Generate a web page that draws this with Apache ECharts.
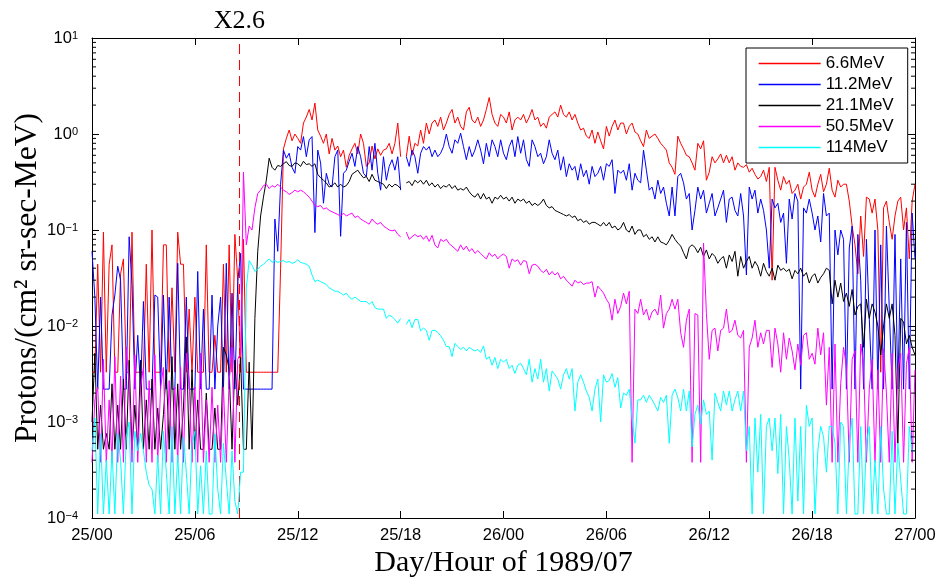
<!DOCTYPE html>
<html><head><meta charset="utf-8">
<script src="https://cdn.jsdelivr.net/npm/echarts@6/dist/echarts.min.js"></script>
<style>html,body{margin:0;padding:0;background:#fff}#c{width:940px;height:586px}</style>
</head><body><div id="c"></div>
<script>
// ---- data (10-minute samples starting 1989/07/25 00:00) ----
const sampleMinutes = 10;
const xTickLabels = ['25/00','25/06','25/12','25/18','26/00','26/06','26/12','26/18','27/00'];
const seriesNames = ['6.6MeV','11.2MeV','21.1MeV','50.5MeV','114MeV'];
const seriesColors = ['#ff0000','#0000ff','#000000','#ff00ff','#00ffff'];
const flareHour = 8.59;
const flareLabel = 'X2.6';

const p066 = [
0.0033,0.0033,0.044,0.0033,0.095,0.0033,
0.044,0.07,0.0033,0.0033,0.035,0.05,
0.0033,0.0033,0.095,0.0033,0.0033,0.0033,
0.0033,0.044,0.0033,0.1,0.0033,0.0033,
0.0033,0.07,0.07,0.0033,0.025,0.0033,
0.095,0.044,0.044,0.0033,0.015,0.0033,
0.02,0.0033,0.0033,0.0033,0.07,0.0033,
0.0033,0.008,0.0033,0.0033,0.044,0.0033,
0.07,0.0033,0.09,0.03,0.0033,0.08,
0.0033,0.0033,0.0033,0.0033,0.0033,0.0033,
0.0033,0.0033,0.0033,0.0033,0.0033,0.0033,
0.04,0.7,0.9,1.1,0.85,1.0,
0.9,0.8,1.3,1.5,1.8,1.4,
2.1,1.1,0.95,0.8,1.0,0.62,
0.9,0.68,0.75,0.58,0.68,0.45,
0.6,0.7,0.8,0.62,1.0,0.8,
0.46,0.5,0.75,0.55,0.7,0.6,
0.68,0.7,0.8,0.62,0.8,1.3,
0.58,null,0.58,0.95,0.6,0.8,
0.75,1.1,0.8,1.3,1.0,1.3,
1.4,1.2,1.5,1.1,1.3,1.6,
1.8,1.3,1.5,1.2,1.1,1.7,
1.9,1.4,1.3,1.5,1.2,1.4,
1.8,2.4,1.6,1.3,1.2,1.6,
1.5,1.3,1.7,1.1,1.4,1.5,
1.4,1.6,1.3,1.5,1.8,1.4,
1.5,1.2,1.3,1.15,1.5,1.6,
1.7,1.5,2.0,1.6,1.5,1.7,
1.4,1.6,1.3,1.1,1.15,0.95,
0.9,1.1,0.8,1.05,0.85,0.7,
1.2,0.95,1.2,1.4,1.1,1.3,
1.3,1.0,1.2,1.3,1.05,1.0,
0.85,0.74,1.1,0.9,0.95,1.0,
0.9,0.8,0.74,0.68,0.5,0.45,
0.38,0.95,0.8,0.7,0.6,0.58,
0.5,0.42,0.8,0.7,0.85,0.33,
0.4,0.58,0.5,0.55,0.62,0.5,
0.6,0.5,0.58,0.42,0.5,0.46,
0.45,0.48,0.4,0.44,0.38,0.34,
0.36,0.42,0.32,0.45,0.03,0.45,
0.33,0.26,0.36,0.3,0.33,0.24,
0.26,0.3,0.21,0.28,0.3,0.4,
0.26,0.22,0.3,0.38,0.25,0.3,
0.44,0.26,0.22,0.33,0.28,0.3,
0.3,0.2,0.11,0.07,0.035,0.14,
0.053,0.22,0.21,0.15,0.21,0.1,
0.0033,0.17,0.2,0.12,0.08,0.14,
0.2,0.22,0.1,0.17,0.05,0.2,
0.3];

const p112 = [
0.06,0.02,0.0022,0.02,0.0022,0.0022,
0.0022,0.013,0.021,0.042,0.03,0.0022,
0.0022,0.085,0.027,0.0022,0.008,0.0022,
0.018,0.0022,0.0022,0.0022,0.021,0.02,
0.0022,0.021,0.0022,0.02,0.0022,0.0022,
0.045,0.0022,0.0022,0.02,0.0022,0.0022,
0.0022,0.037,0.0022,0.015,0.0022,0.0022,
0.021,0.0022,0.01,0.02,0.0022,0.045,
0.0022,0.022,0.0022,0.029,0.057,0.0022,
0.0022,0.0022,0.0022,0.0022,0.0022,0.0022,
0.0022,0.0022,0.0022,0.0022,0.13,0.06,
0.3,0.68,0.56,0.63,0.45,0.39,
0.74,0.68,0.94,0.58,0.87,0.94,
0.094,0.68,0.5,0.19,0.39,0.3,
0.28,0.58,0.68,0.086,0.39,0.42,
0.52,0.63,0.46,0.74,0.58,0.39,
0.36,0.74,0.42,0.8,0.39,0.26,
0.58,0.33,0.46,0.54,0.42,0.58,
0.26,null,0.58,0.46,0.68,0.58,
0.39,0.63,0.74,0.68,0.74,0.58,
0.68,0.58,0.63,0.74,1.0,0.74,
0.63,0.87,0.8,1.02,0.74,0.54,
0.74,0.58,0.68,0.87,0.68,0.49,
0.8,0.58,0.87,0.74,0.58,0.87,
0.63,0.54,0.74,0.87,0.58,0.94,
0.63,0.87,0.54,0.46,0.87,0.74,
0.58,0.63,0.49,0.58,0.87,0.63,
0.54,0.68,0.42,0.58,0.36,0.49,
0.42,0.46,0.33,0.49,0.36,0.42,
0.3,0.46,0.36,0.39,0.46,0.33,
0.49,0.46,0.54,0.24,0.42,0.39,
0.42,0.33,0.49,0.26,0.39,0.33,
0.31,0.68,0.42,0.26,0.28,0.21,
0.33,0.24,0.28,0.19,0.14,0.28,
0.14,0.36,0.39,0.31,0.21,0.24,
0.1,0.16,0.28,0.21,0.26,0.15,
0.19,0.24,0.14,0.17,0.21,0.26,
0.12,0.21,0.22,0.16,0.14,0.24,
0.14,0.034,0.28,0.21,0.26,0.15,
0.21,0.16,0.1,0.04,0.21,0.17,
0.19,0.12,0.15,0.045,0.21,0.13,
0.24,0.2,0.0022,0.17,0.15,0.21,
0.15,0.1,0.14,0.075,0.24,0.14,
0.15,0.0022,0.1,0.055,0.1,0.08,
0.0022,0.065,0.11,0.0022,0.09,0.03,
0.0022,0.08,0.012,0.0022,0.1,0.0022,
0.07,0.0022,0.11,0.015,0.0022,0.09,
0.0022,0.05,0.0022,0.12,0.0022,0.15,
0.05];

const p211 = [
0.001,0.0052,0.00052,0.0015,0.00052,0.00076,
0.00052,0.0025,0.00052,0.0015,0.00052,0.0028,
0.00052,0.0044,0.00052,0.0015,0.00052,0.0044,
0.00052,0.0017,0.00052,0.0028,0.00052,0.0014,
0.00052,0.0012,0.0035,0.00052,0.0048,0.00052,
0.0025,0.00052,0.0014,0.0077,0.00052,0.0035,
0.00052,0.0017,0.00052,0.00052,0.002,0.00052,
0.00052,0.0014,0.00052,0.00052,0.006,0.005,
0.0035,0.00052,0.0044,0.0015,0.0047,0.00052,
0.00052,0.0042,0.00052,0.012,0.06,0.14,
0.22,0.33,0.56,0.45,0.42,0.47,
0.46,0.49,0.515,0.47,0.46,0.5,
0.49,0.46,0.52,0.48,0.49,0.46,
0.49,0.38,0.35,0.33,0.31,0.28,
0.29,0.31,0.28,0.3,0.28,0.29,
0.32,0.38,0.4,0.42,0.38,0.35,
0.36,0.32,0.38,0.33,0.32,0.31,
0.3,0.27,0.3,0.28,0.3,0.29,
0.27,null,0.31,0.32,0.29,0.33,
0.31,0.33,0.3,0.33,0.29,0.31,
0.28,0.3,0.27,0.29,0.28,0.3,
0.27,0.29,0.26,0.27,0.26,0.28,
0.25,0.23,0.22,0.24,0.21,0.24,
0.21,0.22,0.19,0.22,0.21,0.23,
0.21,0.22,0.2,0.22,0.19,0.21,
0.2,0.21,0.19,0.2,0.18,0.19,
0.18,0.19,0.21,0.18,0.17,0.175,
0.16,0.155,0.15,0.145,0.14,0.145,
0.135,0.14,0.125,0.13,0.12,0.125,
0.115,0.12,0.12,0.115,0.11,0.12,
0.11,0.12,0.105,0.11,0.1,0.105,
0.12,0.1,0.095,0.11,0.09,0.1,
0.1,0.085,0.09,0.08,0.085,0.075,
0.085,0.075,0.073,0.07,0.078,0.09,
0.08,0.073,0.068,0.058,0.05,0.066,
0.07,0.066,0.058,0.066,0.053,0.062,
0.05,0.057,0.053,0.045,0.05,0.053,
0.04,0.055,0.047,0.06,0.033,0.053,
0.04,0.047,0.053,0.04,0.047,0.042,
0.033,0.045,0.037,0.033,0.04,0.03,
0.043,0.038,0.04,0.037,0.039,0.031,
0.038,0.035,0.04,0.033,0.036,0.028,
0.033,0.035,0.028,0.032,0.035,0.04,
0.038,0.017,0.03,0.02,0.028,0.018,
0.022,0.016,0.024,0.013,0.016,0.017,
0.006,0.019,0.012,0.017,0.014,0.01,
0.005,0.01,0.017,0.012,0.017,0.008,
0.0006,0.012,0.011,0.0065,0.008,0.006,
0.005];

const p505 = [
0.00038,0.0017,0.0023,0.00038,0.0045,0.00038,
0.0017,0.00038,0.0048,0.00038,0.003,0.00038,
0.006,0.0025,0.00038,0.005,0.00038,0.0023,
0.0037,0.00038,0.0027,0.00038,0.005,0.00038,
0.0023,0.0037,0.00038,0.0027,0.00038,0.0023,
0.00038,0.0037,0.00038,0.0052,0.0027,0.00038,
0.0023,0.00038,0.0052,0.00038,0.0017,0.00038,
0.0023,0.00038,0.0015,0.00038,0.0023,0.00038,
0.0027,0.006,0.00038,0.0045,0.0052,0.4,
0.07,0.11,0.1,0.17,0.24,0.26,
0.29,0.3,0.27,0.29,0.28,0.3,
0.28,0.26,0.25,0.235,0.245,0.26,
0.25,0.26,0.25,0.235,0.22,0.2,
0.18,0.175,0.18,0.165,0.17,0.16,
0.155,0.15,0.145,0.14,0.15,0.14,
0.145,0.15,0.135,0.14,0.13,0.125,
0.12,0.115,0.13,0.12,0.115,0.12,
0.11,0.105,0.1,0.098,0.1,0.09,
0.085,null,0.095,0.08,0.085,0.09,
0.085,0.088,0.08,0.087,0.076,0.088,
0.07,0.065,0.08,0.076,0.08,0.072,
0.068,0.064,0.06,0.07,0.062,0.068,
0.06,0.064,0.057,0.061,0.057,0.053,
0.05,0.058,0.053,0.056,0.05,0.054,
0.056,0.053,0.04,0.05,0.047,0.049,
0.043,0.048,0.047,0.035,0.043,0.044,
0.042,0.038,0.036,0.039,0.034,0.037,
0.034,0.036,0.031,0.033,0.03,0.028,
0.026,0.03,0.028,0.029,0.027,0.028,
0.028,0.029,0.02,0.026,0.024,0.022,
0.019,0.017,0.0115,0.019,0.0135,0.016,
0.022,0.017,0.023,0.00038,0.015,0.0135,
0.019,0.013,0.015,0.0115,0.014,0.015,
0.013,0.021,0.0095,0.0135,0.015,0.019,
0.015,0.019,0.0085,0.006,0.0115,0.015,
0.00038,0.0135,0.013,0.00038,0.073,0.0135,
0.0045,0.009,0.0095,0.0055,0.009,0.0095,
0.015,0.0085,0.009,0.0115,0.008,0.0075,
0.009,0.00038,0.006,0.0075,0.0115,0.006,
0.0085,0.0065,0.009,0.009,0.0037,0.0095,
0.0065,0.0033,0.0085,0.0045,0.0075,0.0055,
0.0035,0.0065,0.0039,0.008,0.0085,0.0045,
0.0052,0.004,0.0095,0.005,0.0085,0.0015,
0.006,0.00038,0.0065,0.00038,0.0025,0.006,
0.0038,0.00038,0.0045,0.0055,0.00038,0.0065,
0.004,0.00038,0.0022,0.0045,0.00038,0.0035,
0.00038,0.0058,0.002,0.00038,0.0052,0.00038,
0.0035,0.0052,0.00038,0.004,0.006,0.00038,
0.0035];

const p114 = [
0.0005,0.0011,0.00011,0.00076,0.00011,0.0004,
0.00011,0.0005,0.00011,0.00076,0.0004,0.00011,
0.0007,0.001,0.00011,0.0008,0.0005,0.00076,
0.0005,0.0003,0.00022,0.0002,0.00011,0.00045,
0.00011,0.0008,0.0003,0.00011,0.0009,0.00011,
0.00045,0.00011,0.0007,0.0003,0.00011,0.0006,
0.0008,0.00011,0.00035,0.00011,0.0005,0.00011,
0.00011,0.00075,0.0002,0.00011,0.0006,0.00025,
0.00011,0.0005,0.00015,0.00011,0.0003,0.0003,
0.025,0.048,0.043,0.037,0.039,0.042,
0.044,0.047,0.05,0.046,0.048,0.046,
0.047,0.048,0.046,0.047,0.045,0.046,
0.049,0.046,0.045,0.044,0.042,0.034,
0.029,0.03,0.029,0.028,0.027,0.025,
0.024,0.023,0.023,0.022,0.021,0.022,
0.02,0.019,0.02,0.019,0.018,0.018,
0.018,0.0168,0.018,0.0155,0.015,0.015,
0.015,0.012,0.013,0.0125,0.0117,0.0107,
0.012,null,0.0104,0.0117,0.0096,0.0117,
0.0117,0.0089,0.0095,0.009,0.0071,0.009,
0.009,0.0086,0.0079,0.0071,0.0061,0.0061,
0.0048,0.0066,0.0061,0.0057,0.006,0.0055,
0.006,0.0057,0.0055,0.0057,0.0053,0.0062,
0.0045,0.0048,0.0039,0.0047,0.0036,0.0045,
0.0042,0.0045,0.0036,0.0039,0.0032,0.0039,
0.0041,0.0036,0.0031,0.0045,0.0026,0.0036,
0.0028,0.0045,0.0026,0.0036,0.0021,0.0034,
0.0031,0.0028,0.0022,0.0031,0.0036,0.0028,
0.0036,0.0013,0.0026,0.0031,0.0026,0.0021,
0.0018,0.0013,0.0022,0.0028,0.001,0.0031,
0.0026,0.0027,0.0032,0.0023,0.0029,0.0014,
0.002,0.0019,0.0022,0.0011,0.0006,0.0017,
0.0017,0.0019,0.0016,0.0019,0.0017,0.0015,
0.0013,0.0018,0.0016,0.0019,0.0006,0.0019,
0.0022,0.0018,0.0013,0.0022,0.0013,0.0021,
0.00055,0.0012,0.0015,0.00095,0.0017,0.0012,
0.0013,0.0004,0.002,0.0016,0.0013,0.0021,
0.0015,0.0021,0.0013,0.0017,0.0021,0.0013,
0.0021,0.0005,0.0009,0.00011,0.0011,0.0003,
0.0012,0.00011,0.0009,0.0011,0.0005,0.0011,
0.00029,0.0012,0.00011,0.0009,0.0004,0.00011,
0.0011,0.00015,0.0009,0.00011,0.0015,0.0009,
0.0011,0.00011,0.0005,0.0009,0.0007,0.0003,
0.0009,0.0009,0.0006,0.00011,0.001,0.0009,
0.00011,0.0006,0.0011,0.00011,0.00011,0.0009,
0.00011,0.0006,0.0009,0.00011,0.0004,0.00011,
0.0009,0.0002,0.00011,0.00011,0.0008,0.00011,
0.0006,0.00025,0.00011,0.00011,0.0009,0.0005,
0.0005];

const seriesValues = [p066, p112, p211, p505, p114];

// ---- chart ----
const toPairs = vals => vals.map((v, i) => [i * sampleMinutes / 60, v]);
const minorTickVals = [];
for (let e = -4; e <= 0; e++) for (let k = 2; k <= 9; k++) minorTickVals.push([0, k * Math.pow(10, e)]);

const sans = 'Liberation Sans, Arial, Helvetica, sans-serif';
const serif = 'Liberation Serif, Times New Roman, serif';
const black = '#000';

function expLabel(v) {
  const e = Math.round(Math.log10(v));
  return '{b|10}{e|' + (e < 0 ? '\u2212' + (-e) : e) + '}';
}

const xAxisBase = {
  type: 'value', min: 0, max: 48, interval: 6,
  axisLine: { show: true, onZero: false, lineStyle: { color: black, width: 1 } },
  axisTick: { inside: true, length: 7, lineStyle: { color: black } },
  splitLine: { show: false }
};
const yAxisBase = {
  type: 'log', logBase: 10, min: 1e-4, max: 10,
  axisLine: { show: true, onZero: false, lineStyle: { color: black, width: 1 } },
  axisTick: { inside: true, length: 7, lineStyle: { color: black } },
  splitLine: { show: false }, minorTick: { show: false }
};

const series = seriesNames.map((name, i) => ({
  name, type: 'line', data: toPairs(seriesValues[i]),
  symbol: 'none', showSymbol: false, connectNulls: false,
  lineStyle: { color: seriesColors[i], width: 1 },
  itemStyle: { color: seriesColors[i] },
  z: 2 + i
}));
series[0].markLine = {
  silent: true, symbol: ['none', 'none'], animation: false,
  data: [{ xAxis: flareHour }],
  lineStyle: { color: '#ff0000', type: [10, 6], width: 1 },
  label: { show: true, position: 'end', formatter: flareLabel, fontFamily: serif, fontSize: 26, color: black, distance: 4 },
  emphasis: { disabled: true }
};
series.push({
  type: 'custom', silent: true, data: minorTickVals, z: 10,
  renderItem: (params, api) => {
    const v = api.value(1);
    const l = api.coord([0, v]);
    const r = api.coord([48, v]);
    const st = { stroke: black, lineWidth: 1 };
    return { type: 'group', children: [
      { type: 'line', shape: { x1: l[0], y1: l[1], x2: l[0] + 4, y2: l[1] }, style: st },
      { type: 'line', shape: { x1: r[0], y1: r[1], x2: r[0] - 4, y2: r[1] }, style: st }
    ]};
  }
});

const chart = echarts.init(document.getElementById('c'), null, { renderer: 'canvas' });
chart.setOption({
  animation: false,
  backgroundColor: '#fff',
  grid: { left: 92, right: 25, top: 38, bottom: 68, containLabel: false, outerBoundsMode: 'none' },
  legend: {
    data: seriesNames, left: 746, top: 48, orient: 'vertical',
    itemWidth: 62, itemHeight: 14, itemGap: 4, padding: [7, 14, 7, 12],
    itemStyle: { opacity: 0 },
    lineStyle: { width: 1.3 },
    borderColor: black, borderWidth: 1, borderRadius: 0, backgroundColor: '#fff',
    textStyle: { fontFamily: sans, fontSize: 17, color: black }
  },
  xAxis: [
    Object.assign({}, xAxisBase, {
      position: 'bottom',
      axisLabel: { formatter: v => xTickLabels[Math.round(v / 6)], fontFamily: sans, fontSize: 16.5, color: black, margin: 9 },
      name: 'Day/Hour of 1989/07', nameLocation: 'middle', nameGap: 30, nameMoveOverlap: false,
      nameTextStyle: { fontFamily: serif, fontSize: 30, color: black }
    }),
    Object.assign({}, xAxisBase, { position: 'top', axisLabel: { show: false } })
  ],
  yAxis: [
    Object.assign({}, yAxisBase, {
      position: 'left',
      axisLabel: {
        formatter: expLabel, margin: 14,
        rich: {
          b: { fontFamily: sans, fontSize: 16.5, color: black, lineHeight: 16, padding: [8, 0, 8, 0], verticalAlign: 'middle' },
          e: { fontFamily: sans, fontSize: 11, color: black, lineHeight: 11, verticalAlign: 'top' }
        }
      },
      name: 'Protons/(cm\u00b2 sr-sec-MeV)', nameLocation: 'middle', nameRotate: 90, nameGap: 48, nameMoveOverlap: false,
      nameTextStyle: { fontFamily: serif, fontSize: 31.5, color: black }
    }),
    Object.assign({}, yAxisBase, { position: 'right', axisLabel: { show: false } })
  ],
  series
});
</script>
</body></html>
